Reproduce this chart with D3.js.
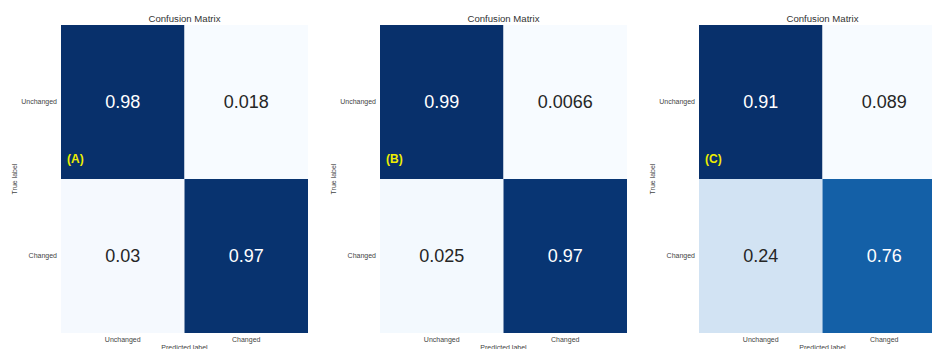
<!DOCTYPE html>
<html>
<head>
<meta charset="utf-8">
<script src="https://cdn.jsdelivr.net/npm/d3@7"></script>
<style>
  html, body { margin: 0; padding: 0; background: #fff; }
  svg { display: block; font-family: "Liberation Sans", Arial, sans-serif; }
</style>
</head>
<body>
<svg id="chart" width="932" height="349"></svg>
<script>
// Normalised confusion matrices for three change-detection models
const panelTags = ["(A)", "(B)", "(C)"];
const classLabels = ["Unchanged", "Changed"];
const matrixA = [[0.98, 0.018], [0.03, 0.97]];
const matrixB = [[0.99, 0.0066], [0.025, 0.97]];
const matrixC = [[0.91, 0.089], [0.24, 0.76]];
const matrices = [matrixA, matrixB, matrixC];

const svg = d3.select("#chart");
const panelW = 247, gridTop = 25, gridBottom = 333, firstLeft = 61, step = 319;

matrices.forEach((m, i) => {
  const left = firstLeft + i * step;
  const x = d3.scaleBand().domain(classLabels).range([left, left + panelW]);
  const y = d3.scaleBand().domain(classLabels).range([gridTop, gridBottom]);
  const flat = m.flat();
  const norm = d3.scaleLinear().domain(d3.extent(flat)).range([0, 1]);
  const color = v => d3.interpolateBlues(norm(v));

  const cells = [];
  classLabels.forEach((t, r) => classLabels.forEach((p, c) => cells.push({ t, p, v: m[r][c] })));

  const g = svg.append("g");
  g.selectAll("rect").data(cells).join("rect")
    .attr("x", d => x(d.p)).attr("y", d => y(d.t))
    .attr("width", x.bandwidth()).attr("height", y.bandwidth())
    .attr("fill", d => color(d.v));

  g.selectAll("text.val").data(cells).join("text")
    .attr("class", "val")
    .attr("x", d => x(d.p) + x.bandwidth() / 2)
    .attr("y", d => y(d.t) + y.bandwidth() / 2)
    .attr("dy", "0.36em")
    .attr("text-anchor", "middle")
    .attr("font-size", 18)
    .attr("fill", d => norm(d.v) > 0.5 ? "#ffffff" : "#262626")
    .text(d => d.v);

  // title
  g.append("text")
    .attr("x", left + panelW / 2).attr("y", 22)
    .attr("text-anchor", "middle").attr("font-size", 9.6).attr("fill", "#333")
    .text("Confusion Matrix");

  // y tick labels
  g.selectAll("text.ytick").data(classLabels).join("text")
    .attr("class", "ytick")
    .attr("x", left - 4).attr("y", d => y(d) + y.bandwidth() / 2)
    .attr("dy", "0.35em").attr("text-anchor", "end")
    .attr("font-size", 7).attr("fill", "#444")
    .text(d => d);

  // x tick labels
  g.selectAll("text.xtick").data(classLabels).join("text")
    .attr("class", "xtick")
    .attr("x", d => x(d) + x.bandwidth() / 2).attr("y", 342)
    .attr("text-anchor", "middle")
    .attr("font-size", 7).attr("fill", "#444")
    .text(d => d);

  // axis titles
  g.append("text")
    .attr("x", left + panelW / 2).attr("y", 350)
    .attr("text-anchor", "middle").attr("font-size", 7).attr("fill", "#444")
    .text("Predicted label");
  g.append("text")
    .attr("transform", `translate(${left - 44},${(gridTop + gridBottom) / 2}) rotate(-90)`)
    .attr("text-anchor", "middle").attr("font-size", 7).attr("fill", "#444")
    .text("True label");

  // panel tag
  g.append("text")
    .attr("x", left + 6).attr("y", 163)
    .attr("font-size", 12).attr("font-weight", "bold").attr("fill", "#eeee00")
    .text(panelTags[i]);
});
</script>
</body>
</html>
